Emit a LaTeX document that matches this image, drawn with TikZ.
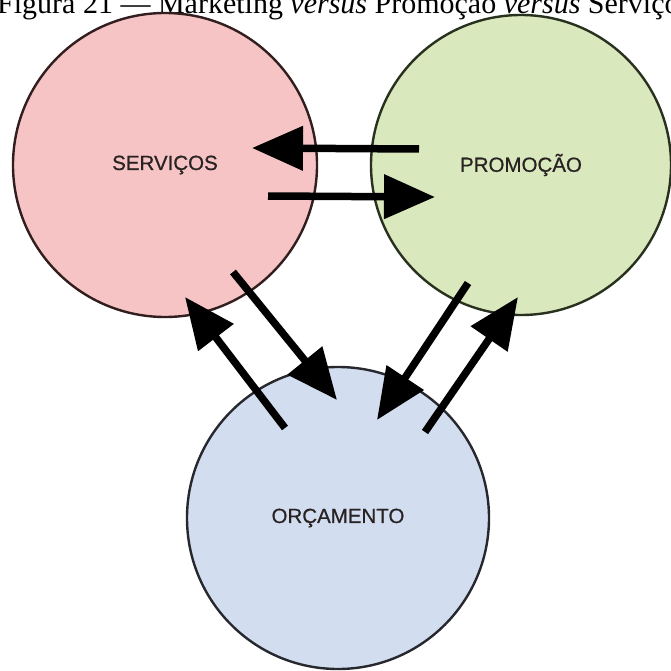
\documentclass[tikz,border=0pt]{standalone}
\usepackage{fontspec}
\setmainfont{Liberation Serif}
\newfontfamily\labelfont[FakeBold=0.7]{Liberation Sans}
\usetikzlibrary{arrows.meta}
\definecolor{pinkfill}{RGB}{246,196,196}
\definecolor{greenfill}{RGB}{218,232,190}
\definecolor{bluefill}{RGB}{210,222,240}
\definecolor{pinkedge}{RGB}{50,30,30}
\definecolor{greenedge}{RGB}{40,48,30}
\definecolor{blueedge}{RGB}{38,40,46}
\definecolor{labeltext}{RGB}{40,34,34}
\tikzset{
  bubble/.style={circle, inner sep=0pt, line width=2.4pt,
    font=\labelfont\fontsize{20.5}{21}\selectfont, text=labeltext},
  flow/.style={line width=7.5pt, black,
    -{Triangle[length=51pt,width=43pt]}},
}
\begin{document}
\begin{tikzpicture}[x=1pt,y=-1pt]
\useasboundingbox (0,0) rectangle (671,671);
\fill[white] (0,0) rectangle (671,671);
\node[anchor=base west, inner sep=0pt, font=\fontsize{30}{32}\selectfont] (title) at (-3,14)
  {Figura 21 — Marketing \textit{versus} Promoção \textit{versus} Serviços};
\node[bubble, fill=pinkfill, draw=pinkedge, minimum size=304pt] (serv) at (165,165) {SERVIÇOS};
\node[bubble, fill=greenfill, draw=greenedge, minimum size=300pt] (prom) at (521,165) {PROMOÇÃO};
\node[bubble, fill=bluefill, draw=blueedge, minimum size=302pt] (orc) at (338,518) {ORÇAMENTO};
% arrow end points
\coordinate (h1s) at (419,149); \coordinate (h1e) at (252,148);
\coordinate (h2s) at (268,196); \coordinate (h2e) at (435,197);
\coordinate (a1s) at (233,272); \coordinate (a1e) at (337,400);
\coordinate (a2s) at (285,428); \coordinate (a2e) at (185,297);
\coordinate (a3s) at (468,283); \coordinate (a3e) at (377,420);
\coordinate (a4s) at (425,432); \coordinate (a4e) at (518,297);
\draw[flow] (h1s) -- (h1e);
\draw[flow] (h2s) -- (h2e);
\draw[flow] (a1s) -- (a1e);
\draw[flow] (a2s) -- (a2e);
\draw[flow] (a3s) -- (a3e);
\draw[flow] (a4s) -- (a4e);
\end{tikzpicture}
\end{document}
